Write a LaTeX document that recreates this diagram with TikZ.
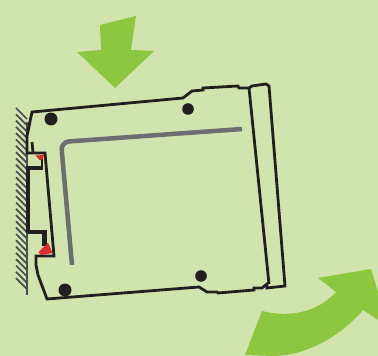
\documentclass[tikz,border=0pt]{standalone}
\definecolor{bgreen}{HTML}{D2E4AE}
\definecolor{agreen}{HTML}{8DC63F}
\definecolor{dblack}{HTML}{231F20}
\definecolor{dgray}{HTML}{6D6E71}
\definecolor{hgray}{HTML}{4A4C50}
\definecolor{cred}{HTML}{DF2A30}
\begin{document}
\begin{tikzpicture}[x=0.75pt, y=-0.75pt,
    outline/.style={draw=dblack, line width=2.1pt, line join=miter},
    frame/.style={draw=dblack, line width=3.4pt, line join=miter},
    hatch/.style={draw=hgray, line width=1.3pt},
    hole/.style={fill=dblack},
    arrowfill/.style={fill=agreen},
    clipfill/.style={fill=cred}]
  \fill[bgreen] (0,0) rectangle (378,356);
  \useasboundingbox (0,0) rectangle (378,356);
  % arrows
  \fill[arrowfill] (100,25) -- (136,16) -- (131,50) -- (154,51) -- (115,88) -- (77,52) -- (101,50) -- cycle;
  \fill[arrowfill] (318,278) -- (371,269) -- (378,292) -- (378,320) -- (363,310)
    .. controls (340,337) and (305,356) .. (273,356) -- (245,355) -- (262,311)
    .. controls (290,318) and (318,312) .. (336,292) -- cycle;
  % wall
  \draw[hatch] (27,122) -- (27,295);
  \foreach \y in {108,114.3,...,284} {
    \draw[hatch] (16,\y) -- (27,\y+11);
  }
  % inner panel
  \draw[draw=dgray, line width=3.4pt, rounded corners=6pt] (242,129) -- (61,142) -- (72,265);
  % body
  \draw[outline] (33,153) -- (27,153) -- (27,136) -- (32,112) -- (183,98) -- (192,91) -- (203,90) -- (203,88)
    -- (238,86) -- (239,88) -- (249,88) -- (252,86) -- (266,84) -- (269,86) -- (285,286) -- (267,288)
    -- (267,284) -- (262,288) -- (254,288) -- (254,290) -- (218,293) -- (217,292) -- (207,292)
    -- (199,287) -- (47,299) -- (38,275) -- (36,265) -- (36,256) -- (54,256) -- (45,153) -- (33,153);
  \draw[outline] (249,88) -- (269,284);
  \draw[outline] (32,142) -- (33,152);
  % clip
  \draw[frame] (28,233) -- (28,168) -- (43,168);
  \draw[outline] (42,168) -- (42,158);
  \draw[frame] (28,232) -- (44.5,232) -- (44.5,246);
  \fill[clipfill] (38.5,252) -- (48,242.5) -- (52.5,253) -- (41,255) -- cycle;
  \fill[clipfill] (35.5,155.5) -- (44,155) -- (43,158.5) -- (40,160.5) -- cycle;
  % screws
  \fill[hole] (51,119) circle (6.5);
  \fill[hole] (188,109) circle (5.8);
  \fill[hole] (201,276) circle (5.8);
  \fill[hole] (65,290) circle (6.5);
\end{tikzpicture}
\end{document}
